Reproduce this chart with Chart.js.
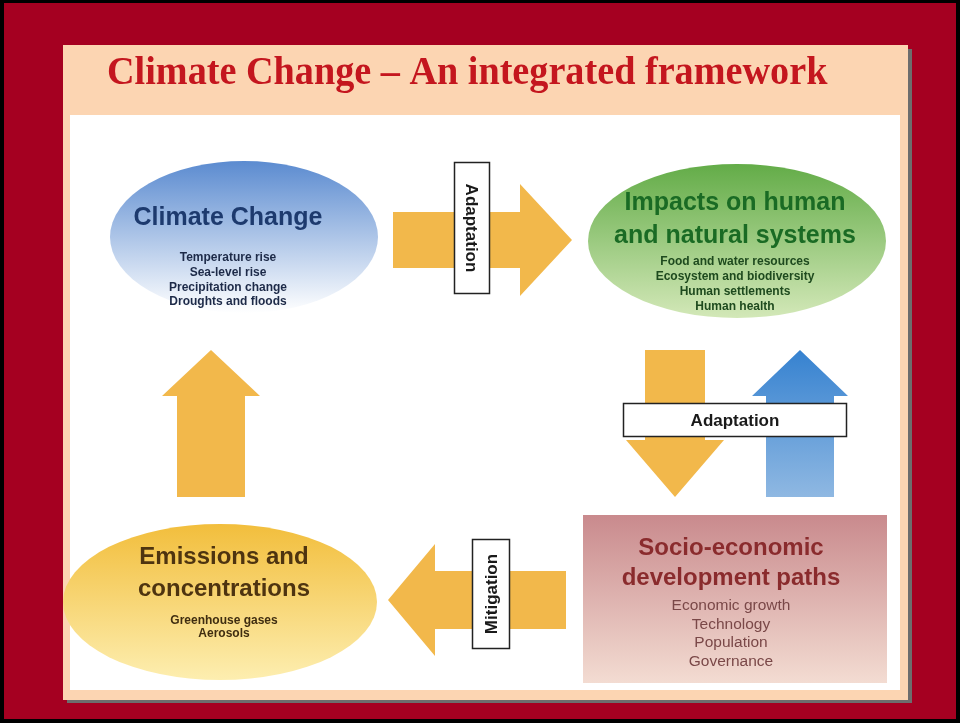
<!DOCTYPE html>
<html>
<head>
<meta charset="utf-8">
<script src="https://cdn.jsdelivr.net/npm/chart.js@4"></script>
<style>
  html, body { margin: 0; padding: 0; background: #a50021; }
  canvas { display: block; }
</style>
</head>
<body>
<canvas id="diagram" width="960" height="723"></canvas>
<script>
// Diagram content, layout units = pixels of the 960x723 slide
const titleText = 'Climate Change \u2013 An integrated framework';

const nodeNames = ['climate', 'impacts', 'emissions', 'socio'];
const nodeTitles = [
  ['Climate Change'],
  ['Impacts on human', 'and natural systems'],
  ['Emissions and', 'concentrations'],
  ['Socio-economic', 'development paths']
];
const nodeItems = [
  ['Temperature rise', 'Sea-level rise', 'Precipitation change', 'Droughts and floods'],
  ['Food and water resources', 'Ecosystem and biodiversity', 'Human settlements', 'Human health'],
  ['Greenhouse gases', 'Aerosols'],
  ['Economic growth', 'Technology', 'Population', 'Governance']
];
const nodeX = [244, 737, 220, 735];
const nodeY = [237, 241, 602, 599];

// arrows: tail point -> tip point
const arrowFromX = [393, 675, 800, 211, 566];
const arrowFromY = [240, 350, 497, 497, 600];
const arrowToX = [572, 675, 800, 211, 388];
const arrowToY = [240, 497, 350, 350, 600];

// labels sitting on the arrows
const labelText = ['Adaptation', 'Adaptation', 'Mitigation'];
const labelX = [472, 735, 491];
const labelY = [228, 420, 594];

// ---- styles (kept apart from data) ----
const nodeShape = ['ellipse', 'ellipse', 'ellipse', 'rect'];
const nodeW = [134, 149, 157, 152];
const nodeH = [76, 77, 78, 84];
const nodeTop = ['#5b8bd0', '#63ac48', '#f2be3c', '#c98a8d'];
const nodeBottom = ['#ffffff', '#d3e8b8', '#fdeeb0', '#f3dcd2'];
const titleColor = ['#1d3a6e', '#1a6b24', '#4e3410', '#8a2b2d'];
const itemColor = ['#1d2a48', '#1e4a1e', '#3f2d10', '#7a4848'];
const arrowColor = ['#f2b84b', '#f2b84b', 'blue', '#f2b84b', '#f2b84b'];
const arrowBodyHalf = [28, 30, 34, 34, 29];
const arrowHeadHalf = [56, 49, 48, 49, 56];
const arrowHeadLen = [52, 57, 46, 46, 47];
const labelW = [35, 223, 37];
const labelH = [131, 33, 109];
const labelRot = [Math.PI / 2, 0, -Math.PI / 2];

function blockArrow(ctx, x0, y0, x1, y1, bw, hw, hl) {
  const ang = Math.atan2(y1 - y0, x1 - x0);
  const len = Math.hypot(x1 - x0, y1 - y0);
  ctx.save();
  ctx.translate(x0, y0);
  ctx.rotate(ang);
  ctx.beginPath();
  ctx.moveTo(0, -bw);
  ctx.lineTo(len - hl, -bw);
  ctx.lineTo(len - hl, -hw);
  ctx.lineTo(len, 0);
  ctx.lineTo(len - hl, hw);
  ctx.lineTo(len - hl, bw);
  ctx.lineTo(0, bw);
  ctx.closePath();
  ctx.restore();
}

const diagramPlugin = {
  id: 'diagram',
  beforeDraw(chart) {
    const ctx = chart.ctx;
    const xs = chart.scales.x, ys = chart.scales.y;
    const px = v => xs.getPixelForValue(v), py = v => ys.getPixelForValue(v);
    ctx.save();
    // frame
    ctx.fillStyle = '#000';
    ctx.fillRect(0, 0, chart.width, chart.height);
    ctx.fillStyle = '#a50021';
    ctx.fillRect(px(4), py(3), px(956) - px(4), py(719) - py(3));
    // slide shadow + body
    ctx.fillStyle = '#6d6d6d';
    ctx.fillRect(px(67), py(49), px(912) - px(67), py(703) - py(49));
    ctx.fillStyle = '#fcd5b2';
    ctx.fillRect(px(63), py(45), px(908) - px(63), py(700) - py(45));
    ctx.fillStyle = '#ffffff';
    ctx.fillRect(px(70), py(115), px(900) - px(70), py(690) - py(115));
    // title
    ctx.fillStyle = '#c4161e';
    ctx.font = 'bold 40px "Liberation Serif", serif';
    ctx.textBaseline = 'alphabetic';
    ctx.textAlign = 'left';
    ctx.save();
    ctx.translate(px(107), py(84));
    ctx.scale(0.955, 1);
    ctx.fillText(titleText, 0, 0);
    ctx.restore();
    ctx.restore();
  },
  afterDatasetsDraw(chart) {
    const ctx = chart.ctx;
    const xs = chart.scales.x, ys = chart.scales.y;
    const px = v => xs.getPixelForValue(v), py = v => ys.getPixelForValue(v);
    ctx.save();
    // nodes
    nodeNames.forEach((n, i) => {
      const cx = px(nodeX[i]), cy = py(nodeY[i]);
      const w = nodeW[i], h = nodeH[i];
      const g = ctx.createLinearGradient(0, cy - h, 0, cy + h);
      g.addColorStop(0, nodeTop[i]);
      g.addColorStop(1, nodeBottom[i]);
      ctx.fillStyle = g;
      ctx.beginPath();
      if (nodeShape[i] === 'ellipse') ctx.ellipse(cx, cy, w, h, 0, 0, Math.PI * 2);
      else ctx.rect(cx - w, cy - h, w * 2, h * 2);
      ctx.fill();
    });
    // arrows
    arrowFromX.forEach((x0, i) => {
      const a = [px(x0), py(arrowFromY[i]), px(arrowToX[i]), py(arrowToY[i])];
      let fill = arrowColor[i];
      if (fill === 'blue') {
        const g = ctx.createLinearGradient(0, a[3], 0, a[1]);
        g.addColorStop(0, '#3682d0');
        g.addColorStop(1, '#8fb8e2');
        fill = g;
      }
      ctx.fillStyle = fill;
      blockArrow(ctx, a[0], a[1], a[2], a[3], arrowBodyHalf[i], arrowHeadHalf[i], arrowHeadLen[i]);
      ctx.fill();
    });
    // arrow labels
    labelText.forEach((t, i) => {
      const cx = px(labelX[i]), cy = py(labelY[i]);
      ctx.save();
      ctx.translate(cx, cy);
      ctx.fillStyle = '#ffffff';
      ctx.strokeStyle = '#222';
      ctx.lineWidth = 1.5;
      ctx.fillRect(-labelW[i] / 2, -labelH[i] / 2, labelW[i], labelH[i]);
      ctx.strokeRect(-labelW[i] / 2, -labelH[i] / 2, labelW[i], labelH[i]);
      ctx.rotate(labelRot[i]);
      ctx.fillStyle = '#1a1a1a';
      ctx.font = 'bold 17px "Liberation Sans", Arial, sans-serif';
      ctx.textAlign = 'center';
      ctx.textBaseline = 'middle';
      ctx.fillText(t, 0, 1);
      ctx.restore();
    });
    // node text
    const textShift = [-16, -2, 4, -4];
    const titleOffset = [-19, -38, -45, -51];
    const titleLine = [33, 33, 32, 30];
    const titleSize = [25, 25, 24, 24];
    const itemStart = [21, 21, 19, 7];
    const itemLine = [14.7, 15, 12.5, 18.5];
    const itemFont = ['bold 12px', 'bold 12px', 'bold 12px', '15.5px'];
    nodeNames.forEach((n, i) => {
      const cx = px(nodeX[i]) + textShift[i], cy = py(nodeY[i]);
      ctx.textAlign = 'center';
      ctx.textBaseline = 'middle';
      ctx.fillStyle = titleColor[i];
      ctx.font = 'bold ' + titleSize[i] + 'px "Liberation Sans", Arial, sans-serif';
      nodeTitles[i].forEach((t, k) => ctx.fillText(t, cx, cy + titleOffset[i] + k * titleLine[i]));
      ctx.fillStyle = itemColor[i];
      ctx.font = itemFont[i] + ' "Liberation Sans", Arial, sans-serif';
      nodeItems[i].forEach((t, k) => ctx.fillText(t, cx, cy + itemStart[i] + k * itemLine[i]));
    });
    ctx.restore();
  }
};

new Chart(document.getElementById('diagram'), {
  type: 'scatter',
  data: {
    datasets: [{
      label: 'nodes',
      data: nodeX.map((x, i) => ({ x: x, y: nodeY[i] })),
      pointRadius: 0
    }]
  },
  options: {
    responsive: false,
    animation: false,
    events: [],
    layout: { padding: 0 },
    plugins: { legend: { display: false }, tooltip: { enabled: false } },
    scales: {
      x: { type: 'linear', min: 0, max: 960, display: false },
      y: { type: 'linear', min: 0, max: 723, reverse: true, display: false }
    }
  },
  plugins: [diagramPlugin]
});
</script>
</body>
</html>
